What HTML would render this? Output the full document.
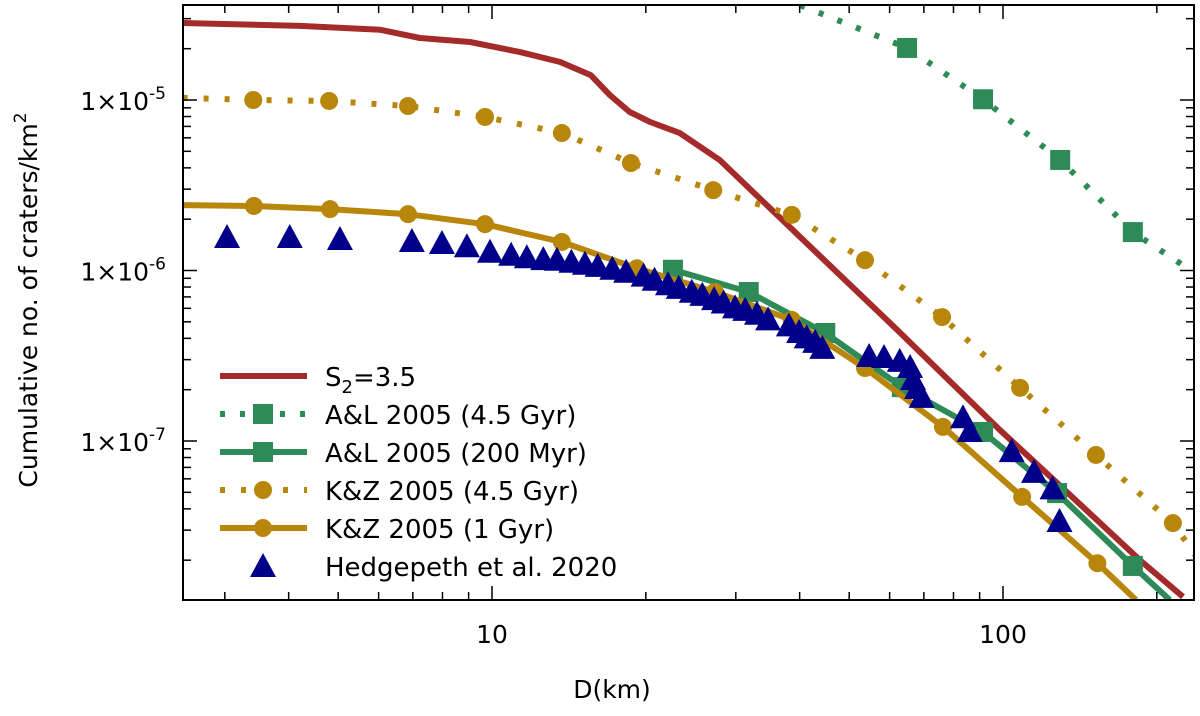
<!DOCTYPE html>
<html><head><meta charset="utf-8"><style>
html,body{margin:0;padding:0;background:#fff;}
svg{display:block;font-family:"DejaVu Sans","Liberation Sans",sans-serif;}
</style></head><body>
<svg id="chart" width="1200" height="716" viewBox="0 0 1200 716" xmlns="http://www.w3.org/2000/svg">
<g id="plot"></g>
<g id="axes"></g>
<g id="legend"></g>
</svg>
<script>
// S2=3.5 model curve
const redD=[2.48,4.21,6.04,7.23,9.06,11.35,13.6,15.6,17.0,18.6,20.4,23.3,27.9,40.1,62.1,98.6,127.6,185.4,225];
const redN=[2.83e-5,2.72e-5,2.58e-5,2.31e-5,2.19e-5,1.91e-5,1.67e-5,1.40e-5,1.07e-5,8.5e-6,7.43e-6,6.4e-6,4.45e-6,1.57e-6,4.48e-7,1.16e-7,5.68e-8,2.0e-8,1.22e-8];
// A&L 2005 (4.5 Gyr)
const al45LineD=[40.1,64.9,91.4,129.4,179.5,232];
const al45LineN=[3.6e-5,2.02e-5,1.01e-5,4.45e-6,1.68e-6,1.01e-6];
const al45D=[64.9,91.4,129.4,179.5];
const al45N=[2.02e-5,1.01e-5,4.45e-6,1.68e-6];
// A&L 2005 (200 Myr)
const al200D=[22.6,31.8,44.9,63.4,91.4,127.6,179.5];
const al200N=[1.01e-6,7.48e-7,4.30e-7,2.07e-7,1.13e-7,4.95e-8,1.85e-8];
const al200EndD=212, al200EndN=1.17e-8;
// K&Z 2005 (4.5 Gyr)
const kz45D=[3.41,4.80,6.85,9.69,13.7,18.7,27.1,38.6,53.7,76.0,108,152,215];
const kz45N=[1.0e-5,9.87e-6,9.22e-6,7.95e-6,6.4e-6,4.27e-6,2.96e-6,2.12e-6,1.15e-6,5.33e-7,2.05e-7,8.28e-8,3.30e-8];
const kz45StartD=2.48, kz45StartN=1.03e-5, kz45EndD=238, kz45EndN=2.14e-8;
// K&Z 2005 (1 Gyr)
const kz1D=[3.42,4.82,6.85,9.69,13.7,19.2,27.3,38.6,53.7,76.3,109,153];
const kz1N=[2.39e-6,2.29e-6,2.14e-6,1.87e-6,1.47e-6,1.03e-6,7.48e-7,5.13e-7,2.68e-7,1.21e-7,4.70e-8,1.92e-8];
const kz1StartD=2.48, kz1StartN=2.42e-6, kz1EndD=182, kz1EndN=1.17e-8;
// Hedgepeth et al. 2020
const hD=[3.03,4.02,5.04,6.97,7.98,8.93,9.91,10.9,11.7,12.6,13.4,14.3,15.2,16.1,17.2,18.3,19.8,20.8,22.1,23.2,24.6,25.8,27.2,28.4,29.9,31.3,33.0,34.7,38.1,39.9,41.3,42.9,44.3,54.7,58.5,62.8,65.8,66.7,67.9,69.3,83.5,86.1,104,115,125,129];
const hN=[1.55e-6,1.55e-6,1.51e-6,1.47e-6,1.43e-6,1.37e-6,1.27e-6,1.22e-6,1.18e-6,1.15e-6,1.14e-6,1.11e-6,1.08e-6,1.05e-6,1.01e-6,9.7e-7,9.2e-7,8.7e-7,8.2e-7,7.8e-7,7.4e-7,7.1e-7,6.7e-7,6.4e-7,6.0e-7,5.8e-7,5.5e-7,5.1e-7,4.7e-7,4.3e-7,4.0e-7,3.76e-7,3.47e-7,3.11e-7,3.07e-7,2.91e-7,2.68e-7,2.28e-7,2.02e-7,1.79e-7,1.36e-7,1.13e-7,8.6e-8,6.5e-8,5.2e-8,3.35e-8];
const xTickVals=[10,100];
const xTickLabels=["10","100"];
const yTickVals=[1e-5,1e-6,1e-7];
const yTickExp=["-5","-6","-7"];

const L=183,R=1194,T=5,B=600;
const NS="http://www.w3.org/2000/svg";
function xs(d){return 492+(Math.log10(d)-1)*511;}
function ys(n){return 100-(Math.log10(n)+5)*170.5;}
function mk(tag,attrs,parent){const e=document.createElementNS(NS,tag);for(const k in attrs)e.setAttribute(k,attrs[k]);parent.appendChild(e);return e;}
const plot=document.getElementById('plot'), axes=document.getElementById('axes'), legend=document.getElementById('legend');
const defs=mk('defs',{},plot);
const cp=mk('clipPath',{id:'clip'},defs);
mk('rect',{x:L,y:T,width:R-L,height:B-T},cp);
const g=mk('g',{'clip-path':'url(#clip)'},plot);


const RED='#a52a2a',GRN='#2e8b57',GLD='#b8860b',BLU='#00008b';
function line(D,N,color,dash,name){
  const p=D.map((d,i)=>xs(d).toFixed(1)+','+ys(N[i]).toFixed(1)).join(' ');
  const e=mk('polyline',{points:p,fill:'none',stroke:color,'stroke-width':6,'stroke-linejoin':'round'},g);
  if(dash)e.setAttribute('stroke-dasharray',dash);
  
  
}
function square(x,y,c,parent,name){const e=mk('rect',{x:x-10,y:y-10,width:20,height:20,fill:c},parent);}
function circle(x,y,c,parent,name){const e=mk('circle',{cx:x,cy:y,r:9,fill:c},parent);}
function tri(x,y,c,parent,name){const e=mk('polygon',{points:(x-13)+','+(y+10)+' '+(x+13)+','+(y+10)+' '+x+','+(y-14),fill:c},parent);}

line(redD,redN,RED,null,'s2-curve');
line(al45LineD,al45LineN,GRN,'5 15','al-4-5gyr-line');
al45D.forEach((d,i)=>square(xs(d),ys(al45N[i]),GRN,g,'al-4-5gyr-point'));
line(al200D.concat([al200EndD]),al200N.concat([al200EndN]),GRN,null,'al-200myr-line');
al200D.forEach((d,i)=>square(xs(d),ys(al200N[i]),GRN,g,'al-200myr-point'));
line([kz45StartD].concat(kz45D,[kz45EndD]),[kz45StartN].concat(kz45N,[kz45EndN]),GLD,'5 16','kz-4-5gyr-line');
kz45D.forEach((d,i)=>circle(xs(d),ys(kz45N[i]),GLD,g,'kz-4-5gyr-point'));
line([kz1StartD].concat(kz1D,[kz1EndD]),[kz1StartN].concat(kz1N,[kz1EndN]),GLD,null,'kz-1gyr-line');
kz1D.forEach((d,i)=>circle(xs(d),ys(kz1N[i]),GLD,g,'kz-1gyr-point'));
hD.forEach((d,i)=>tri(xs(d),ys(hN[i]),BLU,g,'hedgepeth-point'));

const fr=mk('rect',{x:L,y:T,width:R-L,height:B-T,fill:'none',stroke:'#000','stroke-width':2},axes);


for(let dec=1;dec<=100;dec*=10){for(let m=1;m<=9;m++){const v=dec*m;const x=xs(v);if(x<L||x>R)continue;const len=(m===1)?14:8;
  mk('line',{x1:x,y1:B,x2:x,y2:B-len,stroke:'#000','stroke-width':1.5},axes);
  mk('line',{x1:x,y1:T,x2:x,y2:T+len,stroke:'#000','stroke-width':1.5},axes);}}
xTickVals.forEach((v,i)=>{const t=mk('text',{x:xs(v),y:643,'font-size':25,'text-anchor':'middle',fill:'#000'},axes);t.textContent=xTickLabels[i];});
for(let e=-8;e<=-4;e++){for(let m=1;m<=9;m++){const v=m*Math.pow(10,e);const y=ys(v);if(y<T||y>B)continue;const len=(m===1)?14:8;
  mk('line',{x1:L,y1:y,x2:L+len,y2:y,stroke:'#000','stroke-width':1.5},axes);
  mk('line',{x1:R,y1:y,x2:R-len,y2:y,stroke:'#000','stroke-width':1.5},axes);}}
yTickVals.forEach((v,i)=>{const t=mk('text',{x:166,y:ys(v)+10,'font-size':25,'text-anchor':'end',fill:'#000'},axes);
  
  const a=mk('tspan',{},t);a.textContent='1×10';const b=mk('tspan',{dy:-11,'font-size':17},t);b.textContent=yTickExp[i];});
const xt=mk('text',{x:612,y:698,'font-size':25,'text-anchor':'middle',fill:'#000'},axes);xt.textContent='D(km)';

const yt=mk('text',{x:0,y:0,'font-size':25,'text-anchor':'middle',fill:'#000',transform:'translate(37,300) rotate(-90)'},axes);

const y1=mk('tspan',{},yt);y1.textContent='Cumulative no. of craters/km';const y2=mk('tspan',{dy:-11,'font-size':17},yt);y2.textContent='2';

const rows=[376,414,452,490,528,566];
const names=['legend-s2','legend-al-4-5gyr','legend-al-200myr','legend-kz-4-5gyr','legend-kz-1gyr','legend-hedgepeth'];
const labels=[null,'A&L 2005 (4.5 Gyr)','A&L 2005 (200 Myr)','K&Z 2005 (4.5 Gyr)','K&Z 2005 (1 Gyr)','Hedgepeth et al. 2020'];
rows.forEach((y,i)=>{
  const ent=mk('g',{},legend);
  if(i===0)mk('line',{x1:220,y1:y,x2:307,y2:y,stroke:RED,'stroke-width':6},ent);
  if(i===1){mk('line',{x1:220,y1:y,x2:307,y2:y,stroke:GRN,'stroke-width':6,'stroke-dasharray':'5 15'},ent);square(263,y,GRN,ent,'legend-marker');}
  if(i===2){mk('line',{x1:220,y1:y,x2:307,y2:y,stroke:GRN,'stroke-width':6},ent);square(263,y,GRN,ent,'legend-marker');}
  if(i===3){mk('line',{x1:220,y1:y,x2:307,y2:y,stroke:GLD,'stroke-width':6,'stroke-dasharray':'5 16'},ent);circle(263,y,GLD,ent,'legend-marker');}
  if(i===4){mk('line',{x1:220,y1:y,x2:307,y2:y,stroke:GLD,'stroke-width':6},ent);circle(263,y,GLD,ent,'legend-marker');}
  if(i===5)tri(263,y+1,BLU,ent,'legend-marker');
  const t=mk('text',{x:325,y:y+10,'font-size':26,fill:'#000'},ent);
  if(i===0){const a=mk('tspan',{},t);a.textContent='S';const b=mk('tspan',{dy:7,'font-size':18},t);b.textContent='2';const c=mk('tspan',{dy:-7},t);c.textContent='=3.5';}
  else t.textContent=labels[i];
});
</script>
</body></html>
